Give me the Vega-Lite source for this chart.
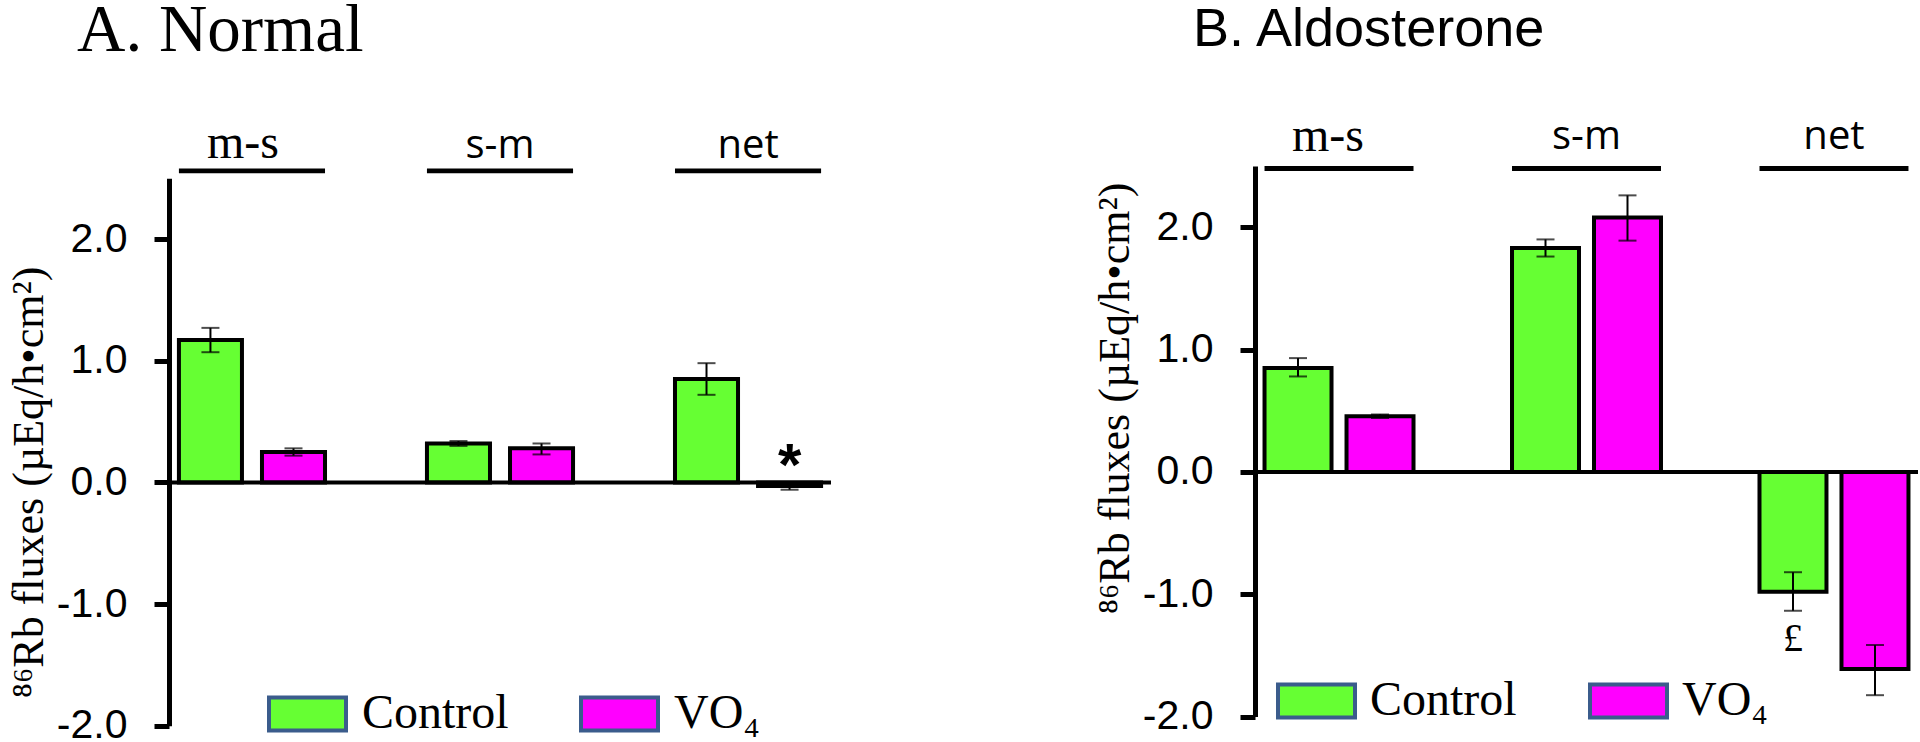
{
  "$schema": "https://vega.github.io/schema/vega-lite/v6.json",
  "background": "white",
  "padding": {"left": 7, "top": -3, "right": 0, "bottom": 0},
  "config": {"view": {"stroke": null}},
  "spacing": 260,
  "datasets": {
    "fluxes": [
      {"panel": "A", "flux": "m-s", "treatment": "Control", "mean": 1.17, "lo": 1.07, "hi": 1.27, "sig": null},
      {"panel": "A", "flux": "m-s", "treatment": "VO₄", "mean": 0.25, "lo": 0.22, "hi": 0.28, "sig": null},
      {"panel": "A", "flux": "s-m", "treatment": "Control", "mean": 0.32, "lo": 0.30, "hi": 0.34, "sig": null},
      {"panel": "A", "flux": "s-m", "treatment": "VO₄", "mean": 0.28, "lo": 0.23, "hi": 0.32, "sig": null},
      {"panel": "A", "flux": "net", "treatment": "Control", "mean": 0.85, "lo": 0.72, "hi": 0.98, "sig": null},
      {"panel": "A", "flux": "net", "treatment": "VO₄", "mean": -0.03, "lo": -0.06, "hi": 0.0, "sig": "*"},
      {"panel": "B", "flux": "m-s", "treatment": "Control", "mean": 0.85, "lo": 0.78, "hi": 0.93, "sig": null},
      {"panel": "B", "flux": "m-s", "treatment": "VO₄", "mean": 0.455, "lo": 0.44, "hi": 0.47, "sig": null},
      {"panel": "B", "flux": "s-m", "treatment": "Control", "mean": 1.83, "lo": 1.76, "hi": 1.90, "sig": null},
      {"panel": "B", "flux": "s-m", "treatment": "VO₄", "mean": 2.08, "lo": 1.89, "hi": 2.26, "sig": null},
      {"panel": "B", "flux": "net", "treatment": "Control", "mean": -0.98, "lo": -1.135, "hi": -0.82, "sig": "£"},
      {"panel": "B", "flux": "net", "treatment": "VO₄", "mean": -1.61, "lo": -1.825, "hi": -1.415, "sig": null}
    ],
    "groups": [{"flux": "m-s"}, {"flux": "s-m"}, {"flux": "net"}]
  },
  "hconcat": [
    {
      "width": 662,
      "height": 559.8,
      "title": {"text": "A. Normal", "font": "Liberation Serif", "fontSize": 67, "fontWeight": "normal", "color": "black", "anchor": "start", "frame": "group", "dx": -92, "offset": 1.4, "baseline": "alphabetic"},
      "layer": [
        {
          "data": {"name": "fluxes"},
          "transform": [{"filter": "datum.panel === 'A'"}],
          "mark": {"type": "bar", "stroke": "black", "strokeWidth": 4, "strokeJoin": "miter"},
          "encoding": {
            "x": {"field": "flux", "type": "nominal", "scale": {"domain": ["m-s", "s-m", "net"], "paddingInner": 0.411, "paddingOuter": 0.04}, "axis": null},
            "xOffset": {"field": "treatment", "type": "nominal", "scale": {"domain": ["Control", "VO₄"], "paddingInner": 0.241, "paddingOuter": 0}},
            "y": {"field": "mean", "type": "quantitative", "scale": {"domain": [-2, 2.5], "range": [559.8, 12.2], "nice": false, "zero": false},
              "axis": {"title": "⁸⁶Rb fluxes (µEq/h•cm²)", "titleFont": "Liberation Serif", "titleFontSize": 44, "titleFontWeight": "normal", "titleColor": "black", "titlePadding": 5, "titleY": 316,
                "values": [-2, -1, 0, 1, 2], "labelExpr": "datum.value < 0 ? '-' + format(-datum.value, '.1f') : format(datum.value, '.1f')",
                "labelFont": "Liberation Sans", "labelFontSize": 41, "labelColor": "black", "labelPadding": 27,
                "grid": false, "domainColor": "black", "domainWidth": 5, "tickColor": "black", "tickWidth": 5, "tickSize": 15}},
            "y2": {"datum": 0},
            "color": {"field": "treatment", "type": "nominal", "scale": {"domain": ["Control", "VO₄"], "range": ["#66FF33", "#FF00FF"]},
              "legend": {"orient": "none", "legendX": 98, "legendY": 507, "direction": "horizontal", "title": null, "padding": 0,
                "symbolType": "M-1,-0.4286H1V0.4286H-1Z", "symbolSize": 5929, "symbolStrokeWidth": 4, "symbolStrokeColor": "#3B5C8C", "symbolOpacity": 1,
                "labelFont": "Liberation Serif", "labelFontSize": 48, "labelColor": "black", "labelOffset": 14, "columnPadding": 64, "labelLimit": 0,
                "encode": {"symbols": {"update": {"stroke": {"value": "#3B5C8C"}, "strokeWidth": {"value": 4}}}}}}
          }
        },
        {
          "data": {"values": [{}]},
          "mark": {"type": "rule", "strokeWidth": 4, "color": "black"},
          "encoding": {"y": {"datum": 0}}
        },
        {
          "data": {"name": "fluxes"},
          "transform": [{"filter": "datum.panel === 'A'"}],
          "mark": {"type": "rule", "strokeWidth": 2, "color": "black"},
          "encoding": {
            "x": {"field": "flux", "type": "nominal"},
            "xOffset": {"field": "treatment", "type": "nominal"},
            "y": {"field": "lo", "type": "quantitative"},
            "y2": {"field": "hi"}
          }
        },
        {
          "data": {"name": "fluxes"},
          "transform": [{"filter": "datum.panel === 'A'"}],
          "mark": {"type": "tick", "orient": "horizontal", "size": 18, "thickness": 2, "color": "black"},
          "encoding": {
            "x": {"field": "flux", "type": "nominal"},
            "xOffset": {"field": "treatment", "type": "nominal"},
            "y": {"field": "lo", "type": "quantitative"}
          }
        },
        {
          "data": {"name": "fluxes"},
          "transform": [{"filter": "datum.panel === 'A'"}],
          "mark": {"type": "tick", "orient": "horizontal", "size": 18, "thickness": 2, "color": "black"},
          "encoding": {
            "x": {"field": "flux", "type": "nominal"},
            "xOffset": {"field": "treatment", "type": "nominal"},
            "y": {"field": "hi", "type": "quantitative"}
          }
        },
        {
          "data": {"name": "groups"},
          "mark": {"type": "bar", "color": "black"},
          "encoding": {
            "x": {"field": "flux", "type": "nominal"},
            "y": {"datum": 2.58},
            "y2": {"datum": 2.54}
          }
        },
        {
          "data": {"name": "groups"},
          "transform": [{"filter": "datum.flux === 'm-s'"}],
          "mark": {"type": "text", "font": "Liberation Serif", "fontSize": 48, "baseline": "alphabetic", "align": "center", "dx": -9, "color": "black"},
          "encoding": {
            "x": {"field": "flux", "type": "nominal"},
            "y": {"datum": 2.67},
            "text": {"field": "flux"}
          }
        },
        {
          "data": {"name": "groups"},
          "transform": [{"filter": "datum.flux !== 'm-s'"}],
          "mark": {"type": "text", "font": "Open Sans", "fontSize": 40, "baseline": "alphabetic", "align": "center", "color": "black"},
          "encoding": {
            "x": {"field": "flux", "type": "nominal"},
            "y": {"datum": 2.67},
            "text": {"field": "flux"}
          }
        },
        {
          "data": {"name": "fluxes"},
          "transform": [{"filter": "datum.panel === 'A' && datum.sig"}],
          "mark": {"type": "text", "font": "Liberation Sans", "fontWeight": "bold", "fontSize": 60, "baseline": "alphabetic", "align": "center", "dy": 3, "color": "black"},
          "encoding": {
            "x": {"field": "flux", "type": "nominal"},
            "xOffset": {"field": "treatment", "type": "nominal"},
            "y": {"field": "hi", "type": "quantitative"},
            "text": {"field": "sig"}
          }
        }
      ]
    },
    {
      "width": 663,
      "height": 550.6,
      "title": {"text": "B. Aldosterone", "font": "Liberation Sans", "fontSize": 54, "fontWeight": "normal", "color": "black", "anchor": "start", "frame": "group", "dx": -62, "offset": 13, "baseline": "alphabetic"},
      "layer": [
        {
          "data": {"name": "fluxes"},
          "transform": [{"filter": "datum.panel === 'B'"}],
          "mark": {"type": "bar", "stroke": "black", "strokeWidth": 4, "strokeJoin": "miter"},
          "encoding": {
            "x": {"field": "flux", "type": "nominal", "scale": {"domain": ["m-s", "s-m", "net"], "paddingInner": 0.398, "paddingOuter": 0.0385}, "axis": null},
            "xOffset": {"field": "treatment", "type": "nominal", "scale": {"domain": ["Control", "VO₄"], "paddingInner": 0.183, "paddingOuter": 0}},
            "y": {"field": "mean", "type": "quantitative", "scale": {"domain": [-2, 2.5], "nice": false, "zero": false},
              "axis": {"title": "⁸⁶Rb fluxes (µEq/h•cm²)", "titleFont": "Liberation Serif", "titleFontSize": 44, "titleFontWeight": "normal", "titleColor": "black", "titlePadding": 5, "titleY": 232,
                "values": [-2, -1, 0, 1, 2], "labelExpr": "datum.value < 0 ? '-' + format(-datum.value, '.1f') : format(datum.value, '.1f')",
                "labelFont": "Liberation Sans", "labelFontSize": 41, "labelColor": "black", "labelPadding": 27,
                "grid": false, "domainColor": "black", "domainWidth": 5, "tickColor": "black", "tickWidth": 5, "tickSize": 15}},
            "y2": {"datum": 0},
            "color": {"field": "treatment", "type": "nominal", "scale": {"domain": ["Control", "VO₄"], "range": ["#66FF33", "#FF00FF"]},
              "legend": {"orient": "none", "legendX": 21, "legendY": 494, "direction": "horizontal", "title": null, "padding": 0,
                "symbolType": "M-1,-0.4286H1V0.4286H-1Z", "symbolSize": 5929, "symbolStrokeWidth": 4, "symbolStrokeColor": "#3B5C8C", "symbolOpacity": 1,
                "labelFont": "Liberation Serif", "labelFontSize": 48, "labelColor": "black", "labelOffset": 13, "columnPadding": 65, "labelLimit": 0,
                "encode": {"symbols": {"update": {"stroke": {"value": "#3B5C8C"}, "strokeWidth": {"value": 4}}}}}}
          }
        },
        {
          "data": {"values": [{}]},
          "mark": {"type": "rule", "strokeWidth": 4, "color": "black"},
          "encoding": {"y": {"datum": 0}}
        },
        {
          "data": {"name": "fluxes"},
          "transform": [{"filter": "datum.panel === 'B'"}],
          "mark": {"type": "rule", "strokeWidth": 2, "color": "black"},
          "encoding": {
            "x": {"field": "flux", "type": "nominal"},
            "xOffset": {"field": "treatment", "type": "nominal"},
            "y": {"field": "lo", "type": "quantitative"},
            "y2": {"field": "hi"}
          }
        },
        {
          "data": {"name": "fluxes"},
          "transform": [{"filter": "datum.panel === 'B'"}],
          "mark": {"type": "tick", "orient": "horizontal", "size": 18, "thickness": 2, "color": "black"},
          "encoding": {
            "x": {"field": "flux", "type": "nominal"},
            "xOffset": {"field": "treatment", "type": "nominal"},
            "y": {"field": "lo", "type": "quantitative"}
          }
        },
        {
          "data": {"name": "fluxes"},
          "transform": [{"filter": "datum.panel === 'B'"}],
          "mark": {"type": "tick", "orient": "horizontal", "size": 18, "thickness": 2, "color": "black"},
          "encoding": {
            "x": {"field": "flux", "type": "nominal"},
            "xOffset": {"field": "treatment", "type": "nominal"},
            "y": {"field": "hi", "type": "quantitative"}
          }
        },
        {
          "data": {"name": "groups"},
          "mark": {"type": "bar", "color": "black"},
          "encoding": {
            "x": {"field": "flux", "type": "nominal"},
            "y": {"datum": 2.5},
            "y2": {"datum": 2.46}
          }
        },
        {
          "data": {"name": "groups"},
          "transform": [{"filter": "datum.flux === 'm-s'"}],
          "mark": {"type": "text", "font": "Liberation Serif", "fontSize": 48, "baseline": "alphabetic", "align": "center", "dx": -11, "color": "black"},
          "encoding": {
            "x": {"field": "flux", "type": "nominal"},
            "y": {"datum": 2.62},
            "text": {"field": "flux"}
          }
        },
        {
          "data": {"name": "groups"},
          "transform": [{"filter": "datum.flux !== 'm-s'"}],
          "mark": {"type": "text", "font": "Open Sans", "fontSize": 40, "baseline": "alphabetic", "align": "center", "color": "black"},
          "encoding": {
            "x": {"field": "flux", "type": "nominal"},
            "y": {"datum": 2.64},
            "text": {"field": "flux"}
          }
        },
        {
          "data": {"name": "fluxes"},
          "transform": [{"filter": "datum.panel === 'B' && datum.sig"}],
          "mark": {"type": "text", "font": "Liberation Serif", "fontSize": 40, "baseline": "alphabetic", "align": "center", "dy": 40, "color": "black"},
          "encoding": {
            "x": {"field": "flux", "type": "nominal"},
            "xOffset": {"field": "treatment", "type": "nominal"},
            "y": {"field": "lo", "type": "quantitative"},
            "text": {"field": "sig"}
          }
        }
      ]
    }
  ],
  "resolve": {
    "scale": {"x": "independent", "y": "independent", "xOffset": "independent", "color": "independent"},
    "legend": {"color": "independent"}
  }
}
